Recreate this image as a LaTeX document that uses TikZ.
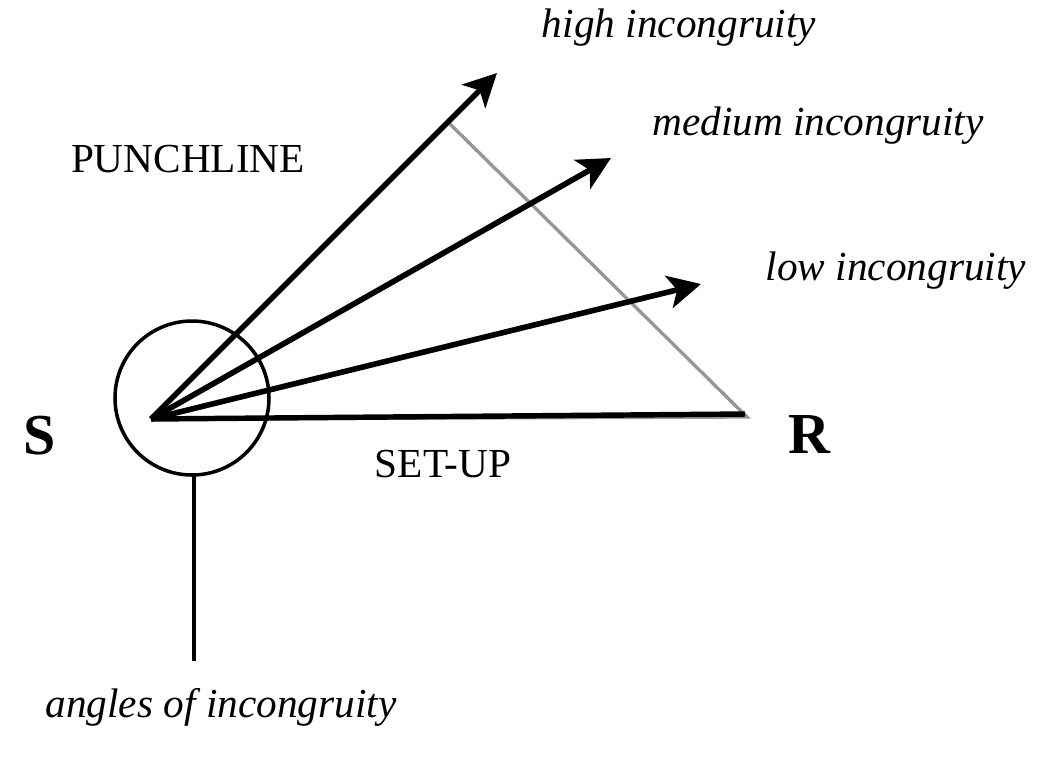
\documentclass[tikz,border=0pt]{standalone}
\usepackage{fontspec}
\setmainfont{Liberation Serif}
\usepackage{tikz}
\usetikzlibrary{arrows.meta}
\usepackage{xcolor}
\definecolor{lineclr}{RGB}{0, 0, 0}
\definecolor{projclr}{RGB}{150, 150, 150}
\tikzset{
  % asosiy chiziqlar
  rayline/.style   = {line width=3.2pt, draw=lineclr,
                      -{Stealth[length=0.66cm, width=0.66cm, inset=0.17cm]}},
  baseline/.style  = {line width=3.1pt, draw=lineclr},
  projline/.style  = {line width=1.9pt, draw=projclr},
  ringline/.style  = {line width=2pt, draw=lineclr},
  stemline/.style  = {line width=2.5pt, draw=lineclr},
  % etiketlar
  lab/.style       = {font=\fontsize{23.5}{27}\selectfont, inner sep=0pt, anchor=base},
  labit/.style     = {font=\fontsize{23.5}{27}\selectfont\itshape, inner sep=0pt, anchor=base},
  labbig/.style    = {font=\fontsize{33}{38}\selectfont\bfseries, inner sep=0pt, anchor=base},
}
\begin{document}
\begin{tikzpicture}[x=0.02cm, y=-0.02cm]
  \useasboundingbox (0,0) rectangle (1038,762);
  \coordinate (O) at (151,419);
  \coordinate (Rc) at (745,414);
  \coordinate (Rg) at (747,417);
  \coordinate (P) at (450,124);
  \coordinate (high) at (497,73);
  \coordinate (medium) at (611,158);
  \coordinate (low) at (701,284);
  \coordinate (ringc) at (192,398);
  \coordinate (stemtop) at (194,475);
  \coordinate (stembot) at (194,661);
  % proyeksiya
  \draw[projline] (O) -- (Rg) -- (P);
  % burchaklar doirasi
  \draw[ringline] (ringc) circle [radius=77];
  \draw[stemline] (stemtop) -- (stembot);
  % nurlar
  \draw[baseline] (O) -- (Rc);
  \foreach \tip in {high,medium,low}
    \draw[rayline] (O) -- (\tip);
  % Etiketlar
  \node[labbig] (S) at (40,454) {S};
  \node[labbig] (R) at (809,453) {R};
  \node[lab] (setup) at (443,477) {SET-UP};
  \node[lab] (punch) at (188,172) {PUNCHLINE};
  \node[labit] (hlab) at (679,37) {high incongruity};
  \node[labit] (mlab) at (818,135) {medium incongruity};
  \node[labit] (llab) at (896,280) {low incongruity};
  \node[labit] (alab) at (221,717) {angles of incongruity};
\end{tikzpicture}
\end{document}
